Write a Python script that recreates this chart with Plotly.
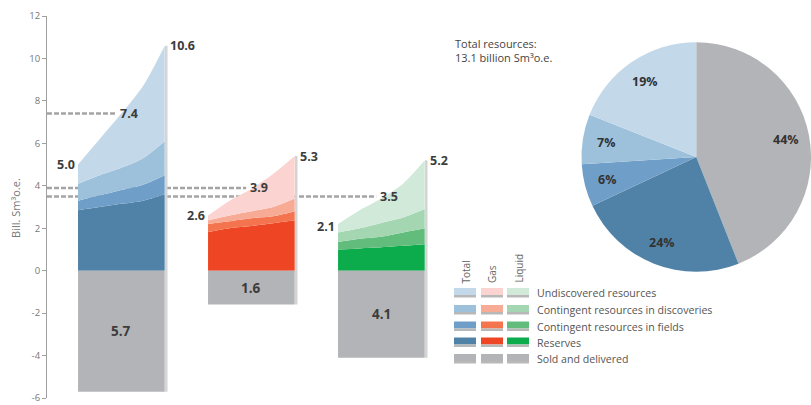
import math
import plotly.graph_objects as go

# ---------------- data ----------------
columns = ["Total", "Gas", "Liquid"]
layer_names = ["Undiscovered resources", "Contingent resources in discoveries",
               "Contingent resources in fields", "Reserves", "Sold and delivered"]
frac = [0, 0.25, 0.5, 0.75, 1.0]   # position across each column (low -> high estimate)

# cumulative tops (Bill. Sm3 o.e.)
total_reserves = [2.85, 3.0, 3.15, 3.3, 3.6]
total_fields = [3.3, 3.55, 3.8, 4.05, 4.5]
total_disc = [4.1, 4.5, 4.85, 5.3, 6.1]
total_undisc = [5.0, 6.2, 7.4, 8.7, 10.6]

gas_reserves = [1.82, 2.0, 2.1, 2.23, 2.37]
gas_fields = [2.2, 2.33, 2.47, 2.56, 2.8]
gas_disc = [2.37, 2.6, 2.8, 3.0, 3.4]
gas_undisc = [2.6, 3.3, 3.85, 4.55, 5.4]

liq_reserves = [1.0, 1.05, 1.1, 1.17, 1.25]
liq_fields = [1.35, 1.5, 1.6, 1.8, 2.0]
liq_disc = [1.8, 2.0, 2.25, 2.5, 2.9]
liq_undisc = [2.2, 2.85, 3.4, 4.1, 5.2]

sold = [5.7, 1.6, 4.1]
low_labels = [5.0, 2.6, 2.1]
high_labels = [10.6, 5.3, 5.2]
expected = [7.4, 3.9, 3.5]

pie_values = [44, 24, 6, 7, 19]
pie_names = ["Sold and delivered", "Reserves", "Contingent resources in fields",
             "Contingent resources in discoveries", "Undiscovered resources"]

yticks = [-6, -4, -2, 0, 2, 4, 6, 8, 10, 12]
resource_text = ["Total resources:", "13.1 billion Sm³o.e."]

# ---------------- styles ----------------
colors = {
    "Total": ["#c3d9ea", "#9dc1db", "#6f9fc8", "#5082a8"],
    "Gas": ["#fbd3d1", "#f7ab95", "#f4744f", "#ee4624"],
    "Liquid": ["#d0e9d9", "#a3d6b1", "#62bd7c", "#0cab4c"],
}
grey = "#b3b4b7"
col_left = [0, 1.5, 3.0]
col_w = 1.0
stacks = [
    [total_reserves, total_fields, total_disc, total_undisc],
    [gas_reserves, gas_fields, gas_disc, gas_undisc],
    [liq_reserves, liq_fields, liq_disc, liq_undisc],
]
label_frac = 0.46
FONT = "Open Sans"
LAB = dict(family=FONT, size=12.5, color="#3c3c3c")

fig = go.Figure()

# dashed expected-value lines (behind columns)
x0_axis = -0.358
for i, e in enumerate(expected):
    fig.add_trace(go.Scatter(
        x=[x0_axis, col_left[i] + (label_frac - 0.02) * col_w], y=[e, e],
        mode="lines", line=dict(color="#a4a4a4", width=2.5, dash="5px,2px"),
        hoverinfo="skip", showlegend=False))

for i, c in enumerate(columns):
    xs = [col_left[i] + f * col_w for f in frac]
    tops = stacks[i]
    layer_cols = colors[c][::-1]
    # base line at zero
    fig.add_trace(go.Scatter(x=xs, y=[0] * len(xs), mode="lines", line=dict(width=0),
                             hoverinfo="skip", showlegend=False))
    for k, top in enumerate(tops):
        fig.add_trace(go.Scatter(
            x=xs, y=top, mode="lines", fill="tonexty", fillcolor=layer_cols[k],
            line=dict(width=0, shape="spline", smoothing=0.8), hoverinfo="skip",
            showlegend=False))
    # sold and delivered block
    fig.add_trace(go.Scatter(
        x=[xs[0], xs[-1], xs[-1], xs[0], xs[0]], y=[0, 0, -sold[i], -sold[i], 0],
        mode="lines", fill="toself", fillcolor=grey, line=dict(width=0, color=grey),
        hoverinfo="skip", showlegend=False))
    # right edge strip
    fig.add_trace(go.Scatter(
        x=[xs[-1] + 0.018, xs[-1] + 0.018], y=[tops[-1][-1], -sold[i]],
        mode="lines", line=dict(color="#d4d4d4", width=2.5),
        hoverinfo="skip", showlegend=False))

    fig.add_annotation(x=xs[0], y=low_labels[i], text=f"<b>{low_labels[i]:.1f}</b>",
                       xanchor="right", yanchor="middle", showarrow=False, xshift=-1, font=LAB)
    fig.add_annotation(x=xs[-1], y=tops[-1][-1], text=f"<b>{high_labels[i]:.1f}</b>",
                       xanchor="left", yanchor="middle", showarrow=False, xshift=3, font=LAB)
    fig.add_annotation(x=col_left[i] + label_frac * col_w, y=expected[i], text=f"<b>{expected[i]:.1f}</b>",
                       xanchor="left", yanchor="middle", showarrow=False, font=LAB)
    fig.add_annotation(x=col_left[i] + 0.5 * col_w, y=-sold[i] / 2, text=f"<b>{sold[i]:.1f}</b>",
                       xanchor="center", yanchor="middle", showarrow=False,
                       font=dict(family=FONT, size=13.5, color="#3c3c3c"))

# ---------------- layout geometry ----------------
H_TOP, H_BOT = 16, 7
PLOT_H = 405 - H_TOP - H_BOT


def py2paper(py):
    return (405 - H_BOT - py) / PLOT_H


# pie chart (centre / radius in pixels -> domain)
PIE_CX, PIE_CY, PIE_R = 696.5, 157, 115
pie_dom_x = [(PIE_CX - PIE_R) / 811, min(1.0, (PIE_CX + PIE_R) / 811)]
pie_dom_y = [py2paper(PIE_CY + PIE_R), py2paper(PIE_CY - PIE_R)]
pie_colors = [grey, colors["Total"][3], colors["Total"][2], colors["Total"][1], colors["Total"][0]]
fig.add_trace(go.Pie(
    values=pie_values, labels=pie_names, sort=False, direction="clockwise", rotation=0,
    marker=dict(colors=pie_colors, line=dict(width=0)),
    textinfo="none", domain=dict(x=pie_dom_x, y=pie_dom_y), showlegend=False,
    hoverinfo="label+value"))

# pie percentage labels positioned from the slice angles
cx_px = (pie_dom_x[0] + pie_dom_x[1]) / 2 * 811
cy_px = 405 - H_BOT - (pie_dom_y[0] + pie_dom_y[1]) / 2 * PLOT_H
rad_px = min((pie_dom_x[1] - pie_dom_x[0]) * 811, (pie_dom_y[1] - pie_dom_y[0]) * PLOT_H) / 2
tot = sum(pie_values)
cum = 0
for v in pie_values:
    mid = (cum + v / 2) / tot
    cum += v
    th = 2 * math.pi * mid
    lx = cx_px + 0.8 * rad_px * math.sin(th)
    ly = cy_px - 0.8 * rad_px * math.cos(th)
    fig.add_annotation(x=lx / 811, y=py2paper(ly), xref="paper", yref="paper", text=f"<b>{v}%</b>",
                       showarrow=False, xanchor="center", yanchor="middle",
                       font=dict(family=FONT, size=12.5, color="#333333"))

fig.update_layout(
    width=811, height=405, margin=dict(l=0, r=0, t=H_TOP, b=H_BOT),
    paper_bgcolor="white", plot_bgcolor="white",
    font=dict(family=FONT, color="#555555"),
    xaxis=dict(domain=[47 / 811, 0.6], range=[x0_axis, 4.714], visible=False, fixedrange=True),
    yaxis=dict(domain=[0, 1], range=[-6, 12], tickvals=yticks, ticktext=[str(v) for v in yticks],
               showline=True, linecolor="#a0a0a0", linewidth=1, ticks="outside", ticklen=4,
               tickcolor="#a0a0a0", tickfont=dict(family=FONT, size=9.5, color="#777777"),
               ticklabeloverflow="allow", automargin=False, showgrid=False, zeroline=False),
)

# y-axis title
fig.add_annotation(x=15 / 811, y=py2paper(208), xref="paper", yref="paper", text="Bill. Sm³o.e.",
                   textangle=-90, showarrow=False, xanchor="center", yanchor="middle",
                   font=dict(family=FONT, size=11, color="#777777"))

# total resources text
fig.add_annotation(x=453 / 811, y=py2paper(34), xref="paper", yref="paper",
                   text="<br>".join(resource_text), align="left", showarrow=False,
                   xanchor="left", yanchor="top", font=dict(family=FONT, size=11, color="#444444"))

# custom legend
sw_x = [(454, 476), (481, 503), (507, 529)]
row_y = [293, 310, 326.5, 342.5, 359]
for j, c in enumerate(columns):
    cx = (sw_x[j][0] + sw_x[j][1]) / 2
    fig.add_annotation(x=cx / 811, y=py2paper(285), xref="paper", yref="paper", text=c,
                       textangle=-90, showarrow=False, xanchor="center", yanchor="bottom",
                       font=dict(family=FONT, size=10, color="#666666"))
    for r in range(5):
        colr = colors[c][r] if r < 4 else grey
        cy = row_y[r]
        fig.add_shape(type="rect", xref="paper", yref="paper",
                      x0=sw_x[j][0] / 811, x1=sw_x[j][1] / 811,
                      y0=py2paper(cy + 2), y1=py2paper(cy - 5),
                      fillcolor=colr, line=dict(width=0))
        fig.add_shape(type="rect", xref="paper", yref="paper",
                      x0=sw_x[j][0] / 811, x1=sw_x[j][1] / 811,
                      y0=py2paper(cy + 4.5), y1=py2paper(cy + 2),
                      fillcolor="#b8b8b8", line=dict(width=0))
for r, name in enumerate(layer_names):
    fig.add_annotation(x=535 / 811, y=py2paper(row_y[r]), xref="paper", yref="paper", text=name,
                       showarrow=False, xanchor="left", yanchor="middle",
                       font=dict(family=FONT, size=10.6, color="#555555"))

fig.write_html("out.html", config={"displayModeBar": False},
               post_script="document.body.style.margin='0';")
